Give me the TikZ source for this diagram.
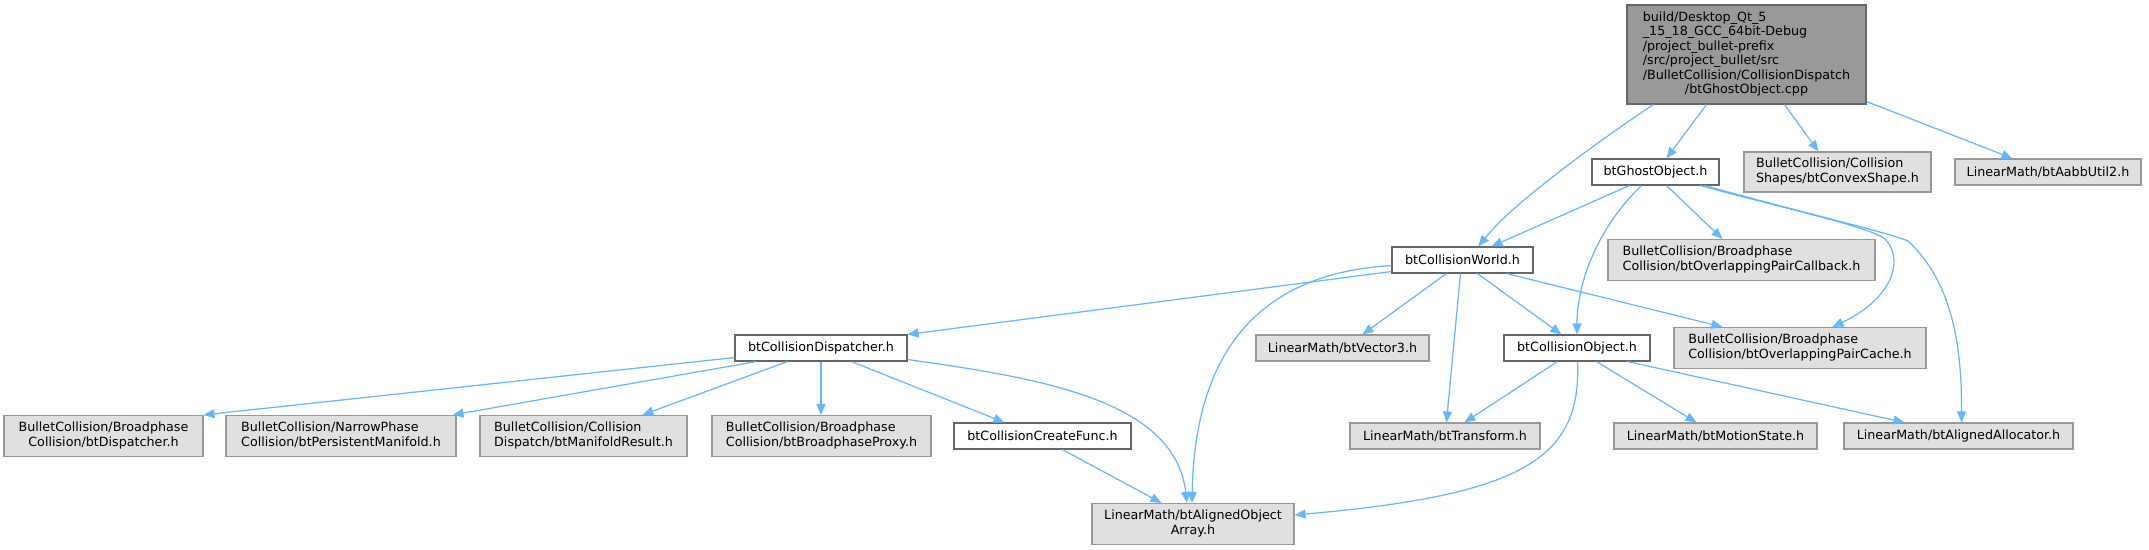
\documentclass[tikz,border=0pt]{standalone}
\usepackage{fontspec}
\setmainfont{DejaVu Sans}
\usetikzlibrary{arrows.meta}
\definecolor{c66}{HTML}{666666}
\definecolor{c99}{HTML}{999999}
\definecolor{cE0}{HTML}{E0E0E0}
\definecolor{eblue}{HTML}{63B8FF}
\newcommand\dfont{\fontsize{12.7}{14.5}\selectfont}
\newcommand\twol[2]{\begin{tabular}{@{}l@{}}#1\\\multicolumn{1}{@{}c@{}}{#2}\end{tabular}}
\tikzset{
  nd/.style={rectangle, inner sep=0pt, line width=1.1pt, font=\dfont, text=black},
  wn/.style={nd, draw=c66, fill=white},
  gn/.style={nd, draw=c99, fill=cE0},
  mn/.style={nd, draw=c66, fill=c99},
  ed/.style={draw=eblue, line width=1.25pt, -{Triangle[length=11pt,width=9pt]}},
}
\begin{document}
\begin{tikzpicture}[x=1pt,y=-1pt]
\useasboundingbox (0,0) rectangle (2149,549);
% rank 0
\node[mn, minimum width=239pt, minimum height=99pt] (main) at (1746.5,54.5)
  {\begin{tabular}{@{}l@{}}build/Desktop\_Qt\_5\\\_15\_18\_GCC\_64bit-Debug\\/project\_bullet-prefix\\/src/project\_bullet/src\\/BulletCollision/CollisionDispatch\\\multicolumn{1}{@{}c@{}}{/btGhostObject.cpp}\end{tabular}};
% rank 1
\node[wn, minimum width=127pt, minimum height=26pt] (ghost) at (1655.5,172) {btGhostObject.h};
\node[gn, minimum width=187pt, minimum height=40pt] (convex) at (1837.5,172) {\twol{BulletCollision/Collision}{Shapes/btConvexShape.h}};
\node[gn, minimum width=186pt, minimum height=26pt] (aabb) at (2048,172) {LinearMath/btAabbUtil2.h};
% rank 2
\node[wn, minimum width=141pt, minimum height=26pt] (world) at (1462.5,260) {btCollisionWorld.h};
\node[gn, minimum width=267pt, minimum height=41pt] (callback) at (1741.5,260) {\twol{BulletCollision/Broadphase}{Collision/btOverlappingPairCallback.h}};
% rank 3
\node[wn, minimum width=172pt, minimum height=26pt] (dispatcher) at (821,348) {btCollisionDispatcher.h};
\node[gn, minimum width=173pt, minimum height=26pt] (vector3) at (1342.5,348) {LinearMath/btVector3.h};
\node[wn, minimum width=146pt, minimum height=26pt] (colobj) at (1577,348) {btCollisionObject.h};
\node[gn, minimum width=252pt, minimum height=41pt] (cache) at (1800,348) {\twol{BulletCollision/Broadphase}{Collision/btOverlappingPairCache.h}};
% rank 4
\node[gn, minimum width=199pt, minimum height=41pt] (btdisp) at (103.5,436) {\twol{BulletCollision/Broadphase}{Collision/btDispatcher.h}};
\node[gn, minimum width=230pt, minimum height=41pt] (persist) at (341,436) {\twol{BulletCollision/NarrowPhase}{Collision/btPersistentManifold.h}};
\node[gn, minimum width=207pt, minimum height=41pt] (manres) at (583.5,436) {\twol{BulletCollision/Collision}{Dispatch/btManifoldResult.h}};
\node[gn, minimum width=219pt, minimum height=41pt] (proxy) at (821.5,436) {\twol{BulletCollision/Broadphase}{Collision/btBroadphaseProxy.h}};
\node[wn, minimum width=177pt, minimum height=26pt] (createf) at (1042.5,436) {btCollisionCreateFunc.h};
\node[gn, minimum width=190pt, minimum height=26pt] (transform) at (1445,436) {LinearMath/btTransform.h};
\node[gn, minimum width=203pt, minimum height=26pt] (motion) at (1715.5,436) {LinearMath/btMotionState.h};
\node[gn, minimum width=229pt, minimum height=26pt] (alloc) at (1958.5,436) {LinearMath/btAlignedAllocator.h};
% rank 5
\node[gn, minimum width=202pt, minimum height=41pt] (array) at (1193,524) {\twol{LinearMath/btAlignedObject}{Array.h}};
% edges from main
\draw[ed] ([xshift=27pt]main.south west) .. controls (1615,130) and (1515,200) .. ([xshift=87pt]world.north west);
\draw[ed] ([xshift=80pt]main.south west) -- ([xshift=75pt]ghost.north west);
\draw[ed] ([xshift=158pt]main.south west) -- ([xshift=75pt]convex.north west);
\draw[ed] ([yshift=3pt]main.south east) -- ([xshift=58pt]aabb.north west);
% edges from ghost
\draw[ed] ([xshift=38pt]ghost.south west) -- ([xshift=100pt]world.north west);
\draw[ed] ([xshift=50pt]ghost.south west) .. controls (1600,225) and (1577,280) .. (colobj.north);
\draw[ed] ([xshift=75pt]ghost.south west) -- ([xshift=115pt]callback.north west);
\draw[ed] ([xshift=-19pt]ghost.south east) .. controls (1790,210) and (1875,228) .. (1886,240) .. controls (1905,262) and (1890,300) .. ([xshift=159pt]cache.north west);
\draw[ed] ([xshift=-15pt]ghost.south east) .. controls (1800,212) and (1890,233) .. (1908,241) .. controls (1950,280) and (1962,340) .. ([xshift=118pt]alloc.north west);
% edges from world
\draw[ed] ([yshift=2pt]world.south west) -- (dispatcher.north east);
\draw[ed] ([yshift=8pt]world.south west) .. controls (1280,272) and (1195,330) .. ([xshift=-1pt]array.north);
\draw[ed] ([xshift=55pt]world.south west) -- ([xshift=107pt]vector3.north west);
\draw[ed] ([xshift=69pt]world.south west) -- ([xshift=97pt]transform.north west);
\draw[ed] ([xshift=86pt]world.south west) -- ([xshift=58pt]colobj.north west);
\draw[ed] ([xshift=115pt]world.south west) -- ([xshift=49pt]cache.north west);
% edges from dispatcher
\draw[ed] ([yshift=4pt]dispatcher.south west) -- (btdisp.north east);
\draw[ed] ([xshift=22pt]dispatcher.south west) -- ([xshift=-4pt]persist.north east);
\draw[ed] ([xshift=53pt]dispatcher.south west) -- ([xshift=163pt]manres.north west);
\draw[ed] (dispatcher.south) -- ([xshift=-0.5pt]proxy.north);
\draw[ed] ([xshift=117pt]dispatcher.south west) -- ([xshift=51pt]createf.north west);
\draw[ed] ([yshift=2pt]dispatcher.south east) .. controls (1040,378) and (1175,400) .. ([xshift=-6pt]array.north);
% createfunc
\draw[ed] ([xshift=109pt]createf.south west) -- ([xshift=70pt]array.north west);
% edges from colobj
\draw[ed] ([xshift=54pt]colobj.south west) -- ([xshift=115pt]transform.north west);
\draw[ed] ([xshift=93pt]colobj.south west) -- ([xshift=83pt]motion.north west);
\draw[ed] ([xshift=124pt]colobj.south west) -- ([xshift=61pt]alloc.north west);
\draw[ed] ([xshift=74pt]colobj.south west) .. controls (1582,460) and (1520,495) .. ([yshift=9pt]array.east);
\end{tikzpicture}
\end{document}
